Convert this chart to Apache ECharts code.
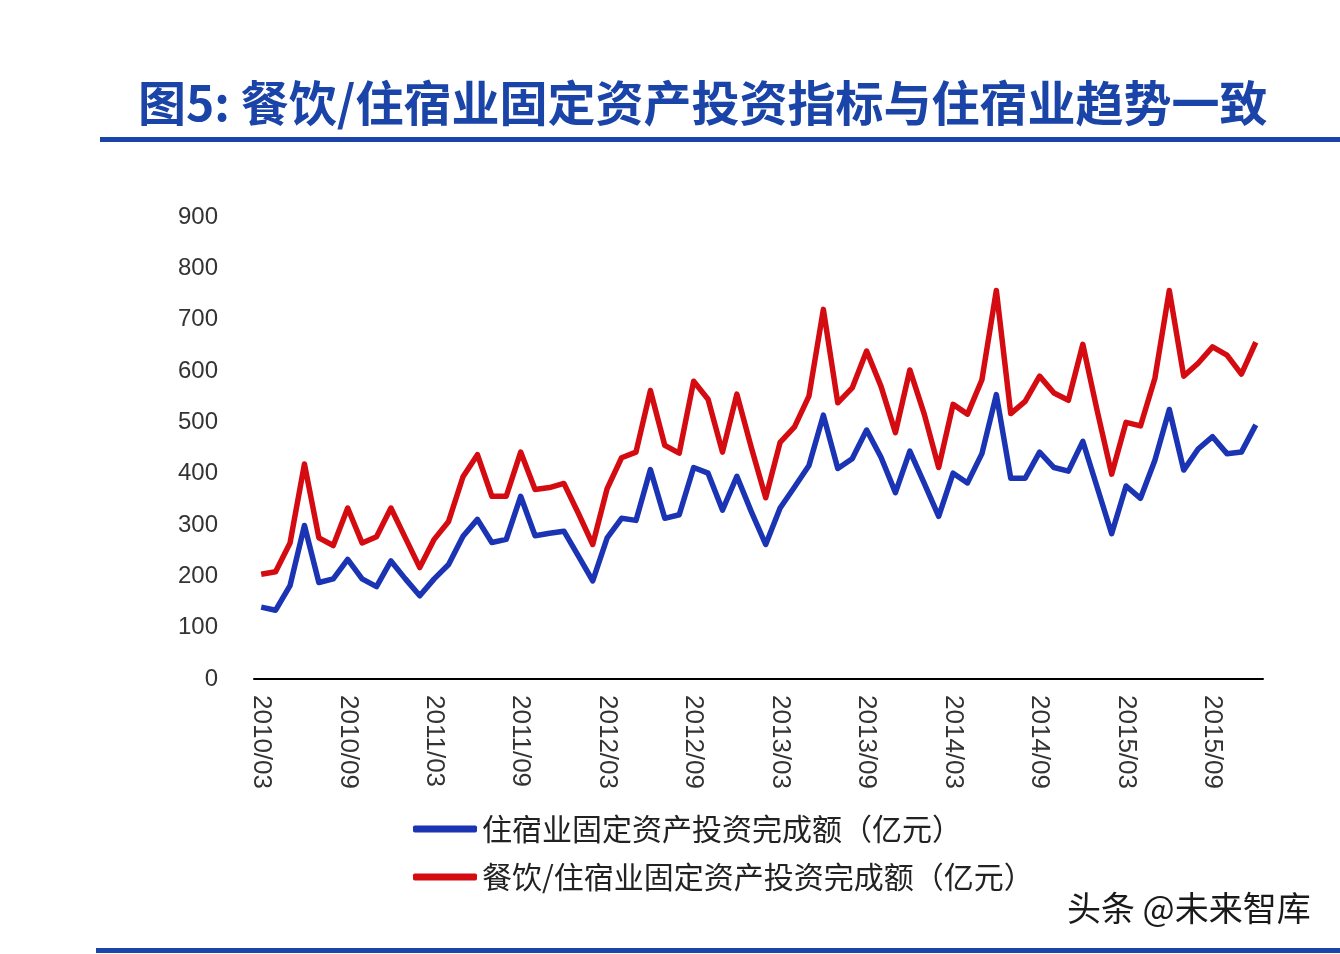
<!DOCTYPE html>
<html>
<head>
<meta charset="utf-8">
<script src="https://cdn.jsdelivr.net/npm/echarts@6/dist/echarts.min.js"></script>
<style>
html,body{margin:0;padding:0;background:#fff;}
#c{width:1340px;height:954px;}
</style>
</head>
<body>
<div id="c"></div>
<script>
// ---- data ----
const startYear = 2010, startMonth = 3, monthCount = 70;
const categories = [];
for (let i = 0; i < monthCount; i++) {
  const m = startMonth - 1 + i;
  const y = startYear + Math.floor(m / 12);
  const mm = (m % 12) + 1;
  categories.push(y + '/' + (mm < 10 ? '0' + mm : mm));
}
const lodgingInvest = [
  140,134,182,299,188,195,233,195,180,230,
  195,162,195,223,278,311,266,272,356,279,
  284,288,240,191,275,313,309,408,313,320,
  412,401,329,395,326,262,333,374,416,514,
  410,429,485,432,363,444,381,317,401,382,
  439,554,391,391,442,412,405,463,373,283,
  376,352,426,525,407,448,472,439,442,495
];
const cateringLodgingInvest = [
  204,209,265,419,275,260,333,265,277,333,
  275,217,272,307,394,437,356,356,442,369,
  373,381,323,262,371,431,442,562,455,440,
  580,545,442,555,451,353,461,491,551,720,
  538,567,639,570,480,602,516,412,535,516,
  583,757,517,541,590,557,543,652,522,399,
  500,493,586,757,590,615,647,631,594,656
];
const seriesNames = ['住宿业固定资产投资完成额（亿元）', '餐饮/住宿业固定资产投资完成额（亿元）'];
const titleText = '图5: 餐饮/住宿业固定资产投资指标与住宿业趋势一致';
const watermark = '头条 @未来智库';

// ---- chart ----
const chart = echarts.init(document.getElementById('c'));
const BLUE = '#1a34b4', RED = '#d40c12';
chart.setOption({
  backgroundColor: '#ffffff',
  animation: false,
  title: {
    text: titleText,
    left: 133, top: 74,
    textStyle: {
      fontFamily: 'Noto Sans CJK SC',
      fontWeight: 'bold',
      fontSize: 48,
      color: '#1a44a8'
    }
  },
  graphic: [
    { type: 'rect', shape: { x: 100, y: 137, width: 1240, height: 5 }, style: { fill: '#1a44a8' } },
    { type: 'rect', shape: { x: 96, y: 948, width: 1244, height: 5 }, style: { fill: '#1a44a8' } },
    { type: 'text', left: 1066, top: 890,
      style: { text: watermark, font: '34px "Noto Sans CJK SC"', fill: '#1a1a1a',
               stroke: '#ffffff', lineWidth: 2 } }
  ],
  legend: {
    orient: 'vertical',
    left: 408, top: 809,
    itemGap: 18,
    itemWidth: 64, itemHeight: 7,
    icon: 'roundRect',
    textStyle: { fontFamily: 'Noto Sans CJK SC', fontSize: 30, color: '#222' },
    data: seriesNames
  },
  grid: { left: 254, right: 77, top: 217, bottom: 275, containLabel: false },
  xAxis: {
    type: 'category',
    data: categories,
    boundaryGap: true,
    axisLine: { lineStyle: { color: '#000', width: 2 } },
    axisTick: { interval: 5, inside: true, length: 6, lineStyle: { color: '#000', width: 2 } },
    axisLabel: {
      interval: 5, rotate: -90, margin: 16,
      fontFamily: 'Liberation Sans', fontSize: 26, color: '#333'
    },
    splitLine: { show: false }
  },
  yAxis: {
    type: 'value',
    min: 0, max: 900, interval: 100,
    axisLine: { show: false },
    axisTick: { show: false },
    splitLine: { show: false },
    axisLabel: { margin: 36, fontFamily: 'Liberation Sans', fontSize: 24, color: '#333' }
  },
  series: [
    { name: seriesNames[0], type: 'line', data: lodgingInvest, showSymbol: false, symbol: 'none',
      lineStyle: { color: BLUE, width: 5.5, join: 'round' }, itemStyle: { color: BLUE } },
    { name: seriesNames[1], type: 'line', data: cateringLodgingInvest, showSymbol: false, symbol: 'none',
      lineStyle: { color: RED, width: 5.5, join: 'round' }, itemStyle: { color: RED } }
  ]
});
</script>
</body>
</html>
